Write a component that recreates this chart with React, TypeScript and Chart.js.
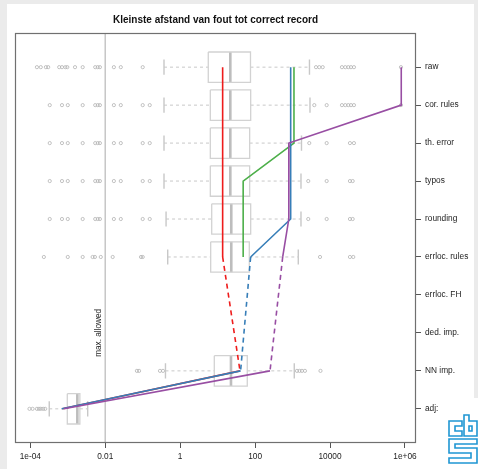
import React, { useEffect, useRef } from "react";
import { Chart, registerables } from "chart.js";

Chart.register(...registerables);

// ---------- data ----------
const TITLE = "Kleinste afstand van fout tot correct record";
const categories = [
  "raw",
  "cor. rules",
  "th. error",
  "typos",
  "rounding",
  "errloc. rules",
  "errloc. FH",
  "ded. imp.",
  "NN imp.",
  "adj:",
];

const xTickValues = [1e-4, 1e-2, 1, 100, 1e4, 1e6];
const xTickLabels = ["1e-04", "0.01", "1", "100", "10000", "1e+06"];
const X_MIN = 3.9e-5;
const X_MAX = 1.97e6;
const Y_MIN = 0.1;
const Y_MAX = 10.9;

const MAX_ALLOWED = 0.01;
const MAX_ALLOWED_LABEL = "max. allowed";
const MAX_ALLOWED_LABEL_ROW = 8; // ded. imp.

// series (null = no value for that step)
const seriesRed = [13.6, 13.6, 13.6, 13.6, 13.6, 13.6, null, null, 39.5, 7.2e-4];
const seriesBlue = [890, 890, 890, 890, 890, 76, null, null, 41, 6.9e-4];
const seriesGreen = [1090, 1090, 1090, 48, 48, 48, null, null, null, null];
const seriesPurple = [796000, 796000, 800, 800, 787, 545, null, null, 250, 7.9e-4];

// boxplot statistics per category (null = no box)
const whiskLow = [0.37, 0.37, 0.37, 0.37, 0.42, 0.465, null, null, 0.405, 3.2e-4];
const quart1 = [5.62, 6.37, 6.37, 6.37, 6.94, 6.52, null, null, 8.14, 9.7e-4];
const medians = [21.8, 21.8, 21.8, 21.8, 23.1, 23.1, null, null, 22.7, 1.8e-3];
const quart3 = [75.3, 76.2, 71.6, 71.6, 76.2, 70, null, null, 61.8, 2.1e-3];
const whiskHigh = [2825, 2915, 1730, 1676, 1676, 1420, null, null, 1110, 3.4e-3];

// outliers per category
const outRaw = [1.5e-4, 1.9e-4, 2.6e-4, 3.0e-4, 5.9e-4, 7.0e-4, 8.6e-4, 9.7e-4, 1.56e-3, 2.5e-3, 5.4e-3, 6.3e-3, 7.2e-3, 0.017, 0.026, 0.1, 4220, 5160, 6370, 20800, 25500, 30700, 36200, 43500, 782000];
const outCorRules = [3.3e-4, 7.0e-4, 1.0e-3, 2.5e-3, 5.4e-3, 6.3e-3, 7.2e-3, 0.017, 0.026, 0.1, 0.154, 3800, 8130, 20800, 25500, 30700, 36200, 43500, 782000];
const outThError = [3.3e-4, 7.0e-4, 1.0e-3, 2.5e-3, 5.4e-3, 6.3e-3, 7.2e-3, 0.017, 0.026, 0.1, 0.154, 2790, 8130, 34000, 43500];
const outTypos = [3.3e-4, 7.0e-4, 1.0e-3, 2.5e-3, 5.4e-3, 6.3e-3, 7.2e-3, 0.017, 0.026, 0.1, 0.154, 2620, 8130, 34000, 40200];
const outRounding = [3.3e-4, 7.0e-4, 1.0e-3, 2.5e-3, 5.4e-3, 6.3e-3, 7.2e-3, 0.017, 0.026, 0.1, 0.154, 2620, 8130, 34000, 40200];
const outErrlocRules = [2.3e-4, 1.0e-3, 2.5e-3, 4.6e-3, 5.3e-3, 7.6e-3, 0.0158, 0.09, 0.1, 5400, 34000, 41700];
const outErrlocFH: number[] = [];
const outDedImp: number[] = [];
const outNNImp = [0.07, 0.08, 0.289, 0.348, 1310, 1530, 1780, 2140, 5560];
const outAdj = [9.5e-5, 1.15e-4, 1.5e-4, 1.7e-4, 1.9e-4, 2.2e-4, 2.5e-4];

const outliers = [outRaw, outCorRules, outThError, outTypos, outRounding, outErrlocRules, outErrlocFH, outDedImp, outNNImp, outAdj];

// ---------- styling ----------
const FONT = '"Liberation Sans", Arial, Helvetica, sans-serif';
const BOX_HALF = 0.4;
const CAP_HALF = 0.2;
const BOX_COLOR = "#d2d2d2";
const MEDIAN_COLOR = "#bdbdbd";
const WHISKER_COLOR = "#c8c8c8";
const OUTLIER_COLOR = "#b4b4b4";

const lineSeries = [
  { name: "purple", values: seriesPurple, color: "#984ea3", order: 0 },
  { name: "blue", values: seriesBlue, color: "#377eb8", order: 1 },
  { name: "green", values: seriesGreen, color: "#4daf4a", order: 2 },
  { name: "red", values: seriesRed, color: "#ee1c1c", order: 3 },
];

type Pt = { x: number | null; y: number | null };
const GAP: Pt = { x: null, y: null };

function buildBoxData() {
  const rects: Pt[] = [];
  const meds: Pt[] = [];
  const whisk: Pt[] = [];
  const caps: Pt[] = [];
  categories.forEach((_, i) => {
    const q1 = quart1[i];
    const q3 = quart3[i];
    const md = medians[i];
    const lo = whiskLow[i];
    const hi = whiskHigh[i];
    if (q1 == null || q3 == null || md == null || lo == null || hi == null) return;
    const y = i + 1;
    rects.push(
      { x: q1, y: y - BOX_HALF },
      { x: q3, y: y - BOX_HALF },
      { x: q3, y: y + BOX_HALF },
      { x: q1, y: y + BOX_HALF },
      { x: q1, y: y - BOX_HALF },
      GAP
    );
    meds.push({ x: md, y: y - BOX_HALF }, { x: md, y: y + BOX_HALF }, GAP);
    whisk.push({ x: lo, y }, { x: q1, y }, GAP, { x: q3, y }, { x: hi, y }, GAP);
    caps.push(
      { x: lo, y: y - CAP_HALF },
      { x: lo, y: y + CAP_HALF },
      GAP,
      { x: hi, y: y - CAP_HALF },
      { x: hi, y: y + CAP_HALF },
      GAP
    );
  });
  return { rects, meds, whisk, caps };
}

const decorPlugin = {
  id: "decor",
  afterDraw(chart: any) {
    const { ctx, chartArea, scales } = chart;
    ctx.save();
    // frame
    ctx.strokeStyle = "#707070";
    ctx.lineWidth = 1.2;
    ctx.strokeRect(
      chartArea.left + 0.5,
      chartArea.top + 0.5,
      chartArea.right - chartArea.left - 1,
      chartArea.bottom - chartArea.top - 1
    );
    // title
    ctx.fillStyle = "#111";
    ctx.font = `bold 10px ${FONT}`;
    ctx.textAlign = "center";
    ctx.textBaseline = "alphabetic";
    ctx.fillText(TITLE, (chartArea.left + chartArea.right) / 2, chartArea.top - 10.4);
    // max allowed label
    const lx = scales.x.getPixelForValue(MAX_ALLOWED) - 3.8;
    const ly = scales.y.getPixelForValue(MAX_ALLOWED_LABEL_ROW);
    ctx.translate(lx, ly);
    ctx.rotate(-Math.PI / 2);
    ctx.font = `8.2px ${FONT}`;
    ctx.fillStyle = "#222";
    ctx.textAlign = "center";
    ctx.fillText(MAX_ALLOWED_LABEL, 0, 0);
    ctx.restore();
  },
};

export default function App() {
  const ref = useRef<HTMLCanvasElement | null>(null);

  useEffect(() => {
    if (!ref.current) return;
    const { rects, meds, whisk, caps } = buildBoxData();
    const outlierPts: Pt[] = [];
    outliers.forEach((arr, i) => arr.forEach((v) => outlierPts.push({ x: v, y: i + 1 })));

    const datasets: any[] = [
      ...lineSeries.map((s) => ({
        type: "line",
        label: s.name,
        data: s.values.map((v, i) => ({ x: v, y: i + 1 })),
        borderColor: s.color,
        borderWidth: 1.6,
        pointRadius: 0,
        spanGaps: true,
        tension: 0,
        fill: false,
        order: s.order,
        segment: {
          borderDash: (ctx: any) => (ctx.p0.skip || ctx.p1.skip ? [5, 4] : undefined),
        },
      })),
      {
        type: "line",
        label: "boxes",
        data: rects,
        borderColor: BOX_COLOR,
        borderWidth: 1.3,
        pointRadius: 0,
        spanGaps: false,
        tension: 0,
        borderJoinStyle: "miter",
        fill: false,
        order: 10,
      },
      {
        type: "line",
        label: "medians",
        data: meds,
        borderColor: MEDIAN_COLOR,
        borderWidth: 2.6,
        pointRadius: 0,
        spanGaps: false,
        fill: false,
        order: 10,
      },
      {
        type: "line",
        label: "whiskers",
        data: whisk,
        borderColor: WHISKER_COLOR,
        borderWidth: 1,
        borderDash: [3, 3],
        pointRadius: 0,
        spanGaps: false,
        fill: false,
        order: 10,
      },
      {
        type: "line",
        label: "caps",
        data: caps,
        borderColor: WHISKER_COLOR,
        borderWidth: 1.4,
        pointRadius: 0,
        spanGaps: false,
        fill: false,
        order: 10,
      },
      {
        type: "line",
        label: "outliers",
        data: outlierPts,
        showLine: false,
        pointRadius: 1.6,
        pointBorderWidth: 0.8,
        pointBorderColor: OUTLIER_COLOR,
        pointBackgroundColor: "rgba(0,0,0,0)",
        order: 10,
      },
      {
        type: "line",
        label: "max allowed",
        data: [
          { x: MAX_ALLOWED, y: Y_MIN },
          { x: MAX_ALLOWED, y: Y_MAX },
        ],
        borderColor: "#c8c8c8",
        borderWidth: 1,
        pointRadius: 0,
        fill: false,
        order: 11,
      },
    ];

    const tickFont = { family: FONT, size: 8.3 };

    const chart = new Chart(ref.current, {
      type: "line",
      data: { datasets },
      options: {
        responsive: false,
        animation: false,
        events: [],
        devicePixelRatio: 1,
        layout: { padding: { left: 15, top: 33, right: 0, bottom: 0 } },
        plugins: {
          legend: { display: false },
          tooltip: { enabled: false },
          title: { display: false },
        },
        scales: {
          x: {
            type: "logarithmic",
            min: X_MIN,
            max: X_MAX,
            bounds: "data",
            afterBuildTicks: (s: any) => {
              s.ticks = xTickValues.map((v) => ({ value: v }));
            },
            afterFit: (s: any) => {
              s.height = 26;
            },
            ticks: {
              callback: (v: any) => xTickLabels[xTickValues.indexOf(Number(v))] ?? "",
              autoSkip: false,
              maxRotation: 0,
              font: tickFont,
              color: "#222",
              padding: 4,
            },
            grid: { drawOnChartArea: false, drawTicks: true, tickLength: 5, color: "#555" },
            border: { display: false },
          },
          y: {
            type: "linear",
            position: "right",
            reverse: true,
            min: Y_MIN,
            max: Y_MAX,
            bounds: "data",
            afterBuildTicks: (s: any) => {
              s.ticks = categories.map((_, i) => ({ value: i + 1 }));
            },
            afterFit: (s: any) => {
              s.width = 62;
            },
            ticks: {
              callback: (v: any) => categories[Math.round(Number(v)) - 1] ?? "",
              autoSkip: false,
              maxRotation: 0,
              font: tickFont,
              color: "#222",
              padding: 4,
            },
            grid: { drawOnChartArea: false, drawTicks: true, tickLength: 5, color: "#555" },
            border: { display: false },
          },
        },
      } as any,
      plugins: [decorPlugin],
    } as any);

    return () => chart.destroy();
  }, []);

  const logoBlue = "#1f96d3";
  return (
    <div
      style={{
        position: "fixed",
        left: 0,
        top: 0,
        width: 478,
        height: 469,
        background: "#ebebeb",
        overflow: "hidden",
      }}
    >
      <div style={{ position: "absolute", left: 7, top: 4, width: 467, height: 465, background: "#fff" }} />
      <div style={{ position: "absolute", left: 474, top: 398, width: 4, height: 71, background: "#fff" }} />
      <canvas
        ref={ref}
        width={478}
        height={469}
        style={{ position: "absolute", left: 0, top: 0, width: 478, height: 469 }}
      />
      <svg
        width={478}
        height={469}
        style={{ position: "absolute", left: 0, top: 0, pointerEvents: "none" }}
      >
        <g fill="none" stroke={logoBlue} strokeWidth={1.6} strokeLinejoin="miter">
          <path d="M449,421 H462 V426 H455 V431 H462 V436 H449 Z" />
          <path d="M464,415 H469 V421 H477 V436 H464 Z" />
          <path d="M469,426 H472 V431 H469 Z" />
          <path d="M449,439 H477 V444 H455 V448 H477 V463 H449 V458 H471 V453 H449 Z" />
        </g>
      </svg>
    </div>
  );
}
